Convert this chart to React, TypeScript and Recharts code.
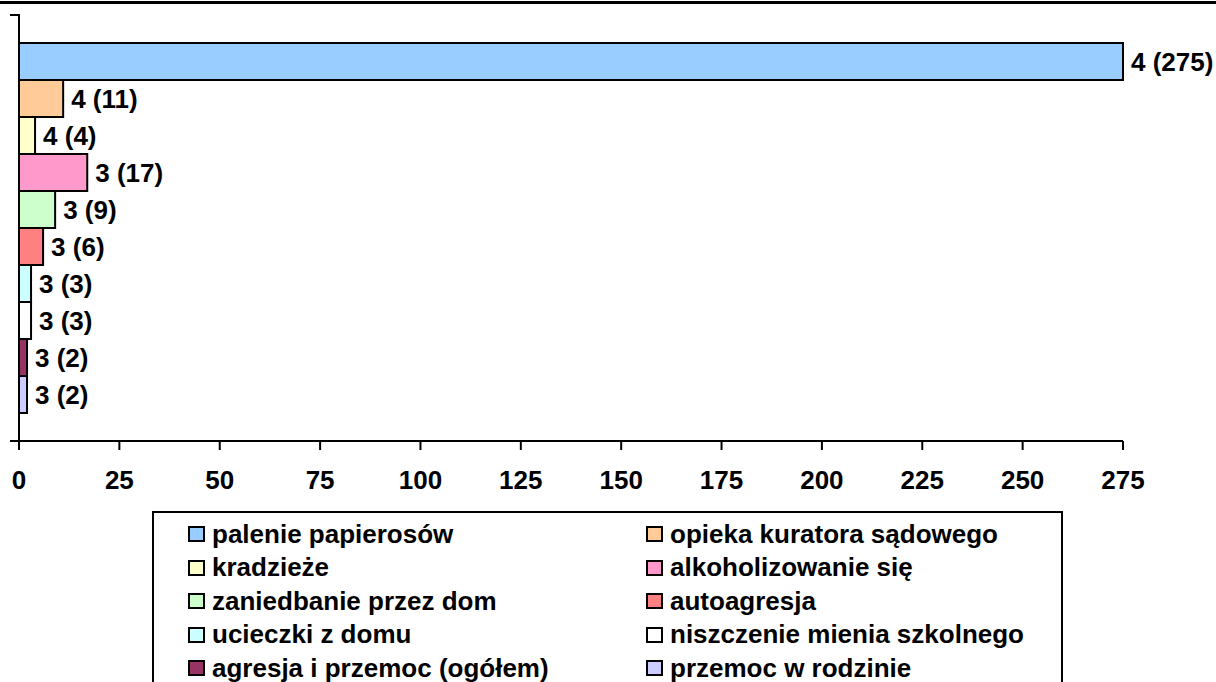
import { BarChart, Bar, XAxis, YAxis, Cell, LabelList } from 'recharts'

const categories = [
  'palenie papierosów',
  'opieka kuratora sądowego',
  'kradzieże',
  'alkoholizowanie się',
  'zaniedbanie przez dom',
  'autoagresja',
  'ucieczki z domu',
  'niszczenie mienia szkolnego',
  'agresja i przemoc (ogółem)',
  'przemoc w rodzinie',
]
const values = [275, 11, 4, 17, 9, 6, 3, 3, 2, 2]
const ranks = [4, 4, 4, 3, 3, 3, 3, 3, 3, 3]
const xTicks = [0, 25, 50, 75, 100, 125, 150, 175, 200, 225, 250, 275]

const colors = [
  '#99CCFF',
  '#FFCC99',
  '#FFFFCC',
  '#FF99CC',
  '#CCFFCC',
  '#FF8080',
  '#CCFFFF',
  '#FFFFFF',
  '#993366',
  '#CCCCFF',
]

const font = '"Liberation Sans", Arial, sans-serif'

const data = categories.map((name, i) => ({
  name,
  value: values[i],
  label: `${ranks[i]} (${values[i]})`,
}))

function ChartLegend() {
  return (
    <div
      style={{
        position: 'absolute',
        left: 152,
        top: 511,
        width: 911,
        height: 200,
        border: '2px solid #000',
        boxSizing: 'border-box',
        fontFamily: font,
        fontWeight: 'bold',
        fontSize: 26,
      }}
    >
      {categories.map((name, i) => {
        const col = i % 2
        const row = Math.floor(i / 2)
        return (
          <div
            key={name}
            style={{
              position: 'absolute',
              left: col ? 492 : 34,
              top: 6 + row * 33.5,
              height: 30,
              display: 'flex',
              alignItems: 'center',
              whiteSpace: 'nowrap',
            }}
          >
            <span
              style={{
                display: 'inline-block',
                width: 13,
                height: 12,
                border: '2px solid #000',
                background: colors[i],
                marginRight: 7,
              }}
            />
            <span>{name}</span>
          </div>
        )
      })}
    </div>
  )
}

export default function App() {
  return (
    <div style={{ position: 'absolute', left: 0, top: 0, width: 1216, height: 682, overflow: 'hidden', background: '#fff' }}>
      <div style={{ position: 'absolute', left: 0, top: 1, width: 1216, height: 3, background: '#000' }} />
      {/* small edge ticks of the category axis (top and bottom) */}
      <div style={{ position: 'absolute', left: 10, top: 14, width: 10, height: 2, background: '#000' }} />
      <div style={{ position: 'absolute', left: 10, top: 440, width: 10, height: 2, background: '#000' }} />
      <BarChart
        width={1216}
        height={682}
        data={data}
        layout="vertical"
        margin={{ top: 15, right: 93, bottom: 181, left: 18 }}
        barCategoryGap={0}
      >
        <XAxis
          type="number"
          domain={[0, 275]}
          ticks={xTicks}
          interval={0}
          height={60}
          tickSize={9}
          tickMargin={21}
          axisLine={{ stroke: '#000', strokeWidth: 2 }}
          tickLine={{ stroke: '#000', strokeWidth: 2 }}
          tick={{ fill: '#000', fontSize: 26, fontWeight: 'bold', fontFamily: font }}
        />
        <YAxis
          type="category"
          dataKey="name"
          width={1}
          tick={false}
          tickLine={false}
          padding={{ top: 28, bottom: 28 }}
          axisLine={{ stroke: '#000', strokeWidth: 2 }}
        />
        <Bar dataKey="value" stroke="#000" strokeWidth={2} isAnimationActive={false}>
          {data.map((d, i) => (
            <Cell key={d.name} fill={colors[i]} />
          ))}
          <LabelList
            dataKey="label"
            position="right"
            offset={8}
            fill="#000"
            fontSize={26}
            fontWeight="bold"
            fontFamily={font}
          />
        </Bar>
      </BarChart>
      <ChartLegend />
    </div>
  )
}
